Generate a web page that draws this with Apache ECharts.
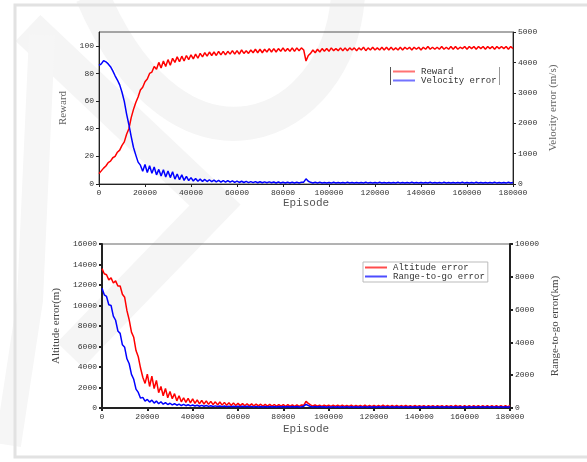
<!DOCTYPE html>
<html>
<head>
<meta charset="utf-8">
<script src="https://cdn.jsdelivr.net/npm/echarts@6/dist/echarts.min.js"></script>
<style>
  html, body { margin: 0; padding: 0; background: #fff; }
  #chart { width: 587px; height: 462px; }
</style>
</head>
<body>
<div id="chart"></div>
<script>
// episode step between samples
const STEP = 1000

// top panel: reward (left axis) and velocity error (right axis, m/s)
const reward = [
  7.5, 9.5, 11.5, 13, 15.5, 16.5, 19, 20, 23, 24.5,
  28, 30.5, 36, 40, 48, 54, 59, 63, 68, 70,
  74, 76, 80, 81, 85, 83, 88, 84, 89, 85,
  90, 86, 91, 88, 92, 88.5, 92.5, 89, 93, 90,
  93.5, 90.5, 94, 91, 94.5, 92, 95, 92.5, 95.5, 93,
  95.5, 93, 96, 93.5, 96, 93.5, 96, 94, 96.5, 94,
  96.5, 94, 97, 94.5, 96.5, 94.5, 97, 95, 97.5, 95,
  97.5, 95, 97.5, 95.5, 98, 95.5, 98, 95.5, 98, 96,
  98.5, 96, 98, 96, 98.5, 96, 98.5, 96.5, 98.5, 97,
  89, 93, 94.5, 97, 95, 97.5, 95.5, 98, 96, 98,
  96, 98.5, 96.5, 98, 96.5, 98.5, 96.5, 98.5, 96.5, 98.5,
  97, 98.5, 96.5, 98.5, 97, 99, 96.5, 98.5, 97, 99,
  97, 98.5, 97, 99, 97, 99, 97, 99, 97, 98.5,
  97, 99, 97, 99, 97.5, 99, 97, 99, 97.5, 99,
  97, 99, 97.5, 99.5, 97.5, 99, 97.5, 99, 97.5, 99.5,
  97.5, 99, 97.5, 99.5, 97.5, 99.5, 97.5, 99, 98, 99.5,
  97.5, 99.5, 98, 99.5, 97.5, 99.5, 98, 99.5, 97.5, 99.5,
  98, 99.5, 97.5, 99.5, 98, 99.5, 98, 99.5, 97.5, 99.5, 98
]
const velocityError = [
  3900, 3950, 4060, 4020, 3950, 3860, 3720, 3560, 3420, 3260,
  3020, 2720, 2300, 1950, 1560, 1200, 950, 720, 620, 420,
  640, 380, 600, 350, 560, 300, 480, 260, 470, 230,
  430, 210, 400, 160, 330, 140, 300, 120, 250, 110,
  210, 100, 180, 90, 160, 85, 150, 80, 140, 75,
  130, 70, 120, 65, 115, 60, 110, 60, 100, 55,
  95, 50, 90, 50, 85, 45, 80, 45, 80, 40,
  75, 40, 70, 40, 70, 40, 65, 35, 65, 35,
  60, 35, 60, 35, 60, 35, 55, 35, 55, 60,
  170, 90, 55, 35, 55, 35, 55, 35, 50, 30,
  50, 30, 55, 35, 50, 30, 50, 30, 55, 35,
  50, 30, 50, 30, 50, 35, 55, 30, 50, 30,
  50, 30, 55, 35, 50, 30, 50, 30, 50, 35,
  55, 30, 50, 30, 50, 30, 55, 35, 50, 30,
  50, 30, 50, 35, 55, 30, 50, 30, 50, 30,
  55, 35, 50, 30, 50, 30, 50, 35, 55, 30,
  50, 30, 50, 30, 55, 35, 50, 30, 50, 30,
  50, 35, 55, 30, 50, 30, 50, 30, 55, 35, 50
]

// bottom panel: altitude error (left axis, m) and range-to-go error (right axis, km)
const altitudeError = [
  13600, 13100, 13000, 12500, 12700, 12200, 12400, 11900, 11900, 11100,
  10800, 9500, 8600, 7400, 6900, 5600, 5000, 3900, 3000, 2400,
  3300, 2100, 3100, 1900, 2700, 1500, 2100, 1200, 1900, 1000,
  1600, 900, 1400, 700, 1200, 600, 1000, 550, 950, 500,
  900, 450, 800, 400, 750, 380, 700, 350, 650, 330,
  600, 300, 580, 280, 550, 260, 520, 250, 480, 240,
  450, 230, 430, 220, 420, 210, 400, 200, 380, 200,
  370, 190, 360, 190, 350, 180, 340, 180, 330, 180,
  330, 170, 320, 170, 310, 160, 310, 160, 300, 260,
  650, 450, 300, 190, 290, 170, 280, 160, 280, 170,
  280, 160, 270, 150, 280, 160, 270, 150, 260, 150,
  270, 140, 260, 150, 250, 140, 270, 140, 250, 130,
  260, 140, 250, 130, 290, 140, 250, 130, 240, 130,
  250, 120, 240, 130, 250, 120, 230, 120, 240, 130,
  230, 120, 240, 110, 230, 120, 240, 110, 230, 120,
  240, 110, 220, 120, 230, 110, 250, 120, 230, 110,
  220, 110, 230, 110, 220, 100, 230, 110, 220, 100,
  230, 110, 220, 100, 230, 100, 220, 110, 230, 100, 260
]
const rangeError = [
  7300, 6900, 6800, 6300, 6250, 5600, 5350, 4700, 4550, 3850,
  3700, 3000, 2700, 2050, 1750, 1150, 950, 600, 650, 420,
  520, 360, 480, 300, 420, 260, 380, 230, 330, 210,
  290, 190, 260, 170, 240, 150, 220, 140, 200, 130,
  180, 120, 170, 110, 160, 105, 150, 100, 140, 95,
  130, 90, 125, 85, 120, 80, 115, 80, 110, 75,
  110, 75, 105, 70, 105, 70, 100, 65, 100, 65,
  95, 65, 95, 60, 95, 60, 90, 60, 90, 60,
  90, 55, 85, 55, 85, 55, 85, 55, 80, 110,
  220, 150, 90, 60, 85, 55, 85, 55, 80, 50,
  80, 50, 85, 50, 80, 50, 80, 50, 85, 50,
  80, 45, 80, 50, 75, 45, 85, 50, 75, 45,
  80, 45, 75, 45, 85, 45, 75, 45, 75, 45,
  80, 45, 75, 45, 75, 40, 80, 45, 75, 40,
  75, 45, 80, 40, 75, 45, 75, 40, 80, 45,
  75, 40, 75, 45, 80, 40, 75, 40, 75, 45,
  80, 40, 75, 40, 75, 45, 80, 40, 75, 40,
  75, 45, 80, 40, 75, 40, 75, 45, 80, 40, 90
]

const xTicks = [0, 20000, 40000, 60000, 80000, 100000, 120000, 140000, 160000, 180000]

function pairs(values) {
  return values.map((v, i) => [i * STEP, v])
}

const MONO = '"Liberation Mono", "DejaVu Sans Mono", monospace'
const SERIF = '"Liberation Serif", "DejaVu Serif", serif'
const plain = (v) => String(v)

const chart = echarts.init(document.getElementById('chart'), null, { renderer: 'canvas' })

function xAxisFor(gridIndex, lineWidth, gap) {
  return {
    type: 'value',
    gridIndex,
    min: xTicks[0],
    max: xTicks[xTicks.length - 1],
    interval: xTicks[1] - xTicks[0],
    name: 'Episode',
    nameLocation: 'middle',
    nameGap: gap,
    nameTextStyle: { fontFamily: MONO, fontSize: 11, color: '#555' },
    axisLine: { onZero: false, lineStyle: { color: '#222', width: lineWidth } },
    axisTick: { length: 3, lineStyle: { color: '#222', width: lineWidth } },
    axisLabel: { margin: 5, fontFamily: MONO, fontSize: 8, color: '#333', formatter: plain },
    splitLine: { show: false }
  }
}

function yAxisFor(gridIndex, position, max, interval, name, gap, lineWidth, nameColor, showMax) {
  return {
    type: 'value',
    gridIndex,
    position,
    min: 0,
    max,
    interval,
    name,
    nameLocation: 'middle',
    nameGap: gap,
    nameTextStyle: { fontFamily: SERIF, fontSize: 11, color: nameColor },
    axisLine: { show: true, onZero: false, lineStyle: { color: '#222', width: lineWidth } },
    axisTick: { show: true, length: 3, lineStyle: { color: '#222', width: lineWidth } },
    axisLabel: { margin: 5, fontFamily: MONO, fontSize: 8, color: '#333', formatter: plain, showMaxLabel: showMax },
    splitLine: { show: false }
  }
}

function lineSeries(name, values, color, xIdx, yIdx) {
  return {
    name,
    type: 'line',
    xAxisIndex: xIdx,
    yAxisIndex: yIdx,
    data: pairs(values),
    showSymbol: false,
    symbol: 'none',
    lineStyle: { color, width: 1.5 },
    itemStyle: { color },
    animation: false
  }
}

chart.setOption({
  animation: false,
  backgroundColor: '#fff',
  graphic: [
    // faint watermark strokes behind the plots
    {
      type: 'bezierCurve', z: -10, silent: true,
      shape: { x1: 92, y1: -5, cpx1: 180, cpy1: 200, cpx2: 340, cpy2: 130, x2: 348, y2: -5 },
      style: { stroke: '#f5f5f5', lineWidth: 34, fill: null }
    },
    {
      type: 'polyline', z: -10, silent: true,
      shape: { points: [[28, 28], [215, 205], [70, 355]] },
      style: { stroke: '#f5f5f5', lineWidth: 36, fill: null }
    },
    {
      type: 'polyline', z: -10, silent: true,
      shape: { points: [[42, 35], [30, 300], [8, 445]] },
      style: { stroke: '#f6f6f6', lineWidth: 26, fill: null }
    },
    // outer frame
    {
      type: 'rect', z: -9, silent: true,
      shape: { x: 15, y: 5, width: 600, height: 452 },
      style: { stroke: '#e2e2e2', lineWidth: 3, fill: null }
    },
    // side rules of the upper legend
    {
      type: 'line', z: 5, silent: true,
      shape: { x1: 390.5, y1: 67, x2: 390.5, y2: 85 },
      style: { stroke: '#555', lineWidth: 1 }
    },
    {
      type: 'line', z: 5, silent: true,
      shape: { x1: 499.5, y1: 67, x2: 499.5, y2: 85 },
      style: { stroke: '#999', lineWidth: 1 }
    }
  ],
  legend: [
    {
      data: ['Reward', 'Velocity error'],
      orient: 'vertical',
      left: 391,
      top: 67,
      padding: [0, 2],
      itemGap: 0,
      itemWidth: 22,
      itemHeight: 2,
      icon: 'rect',
      itemStyle: { opacity: 0.55 },
      textStyle: { fontFamily: MONO, fontSize: 9, color: '#333', lineHeight: 9, padding: [0, 0, 0, 1] }
    },
    {
      data: ['Altitude error', 'Range-to-go error'],
      orient: 'vertical',
      left: 363,
      top: 262,
      padding: [1, 3, 1, 2],
      itemGap: 0,
      itemWidth: 22,
      itemHeight: 2,
      icon: 'rect',
      borderColor: '#bbb',
      borderWidth: 1,
      itemStyle: { opacity: 0.7 },
      textStyle: { fontFamily: MONO, fontSize: 9, color: '#333', lineHeight: 8, padding: [0, 0, 0, 1] }
    }
  ],
  grid: [
    { left: 99, top: 32, width: 414, height: 152, show: true, borderColor: '#555', borderWidth: 1, backgroundColor: 'transparent' },
    { left: 102, top: 244, width: 408, height: 164, show: true, borderColor: '#666', borderWidth: 1, backgroundColor: 'transparent' }
  ],
  xAxis: [
    xAxisFor(0, 1, 14),
    xAxisFor(1, 2, 16)
  ],
  yAxis: [
    yAxisFor(0, 'left', 110, 20, 'Reward', 28, 1, '#666', false),
    yAxisFor(0, 'right', 5000, 1000, 'Velocity error (m/s)', 35, 1, '#666', true),
    yAxisFor(1, 'left', 16000, 2000, 'Altitude error(m)', 40, 2, '#444', true),
    yAxisFor(1, 'right', 10000, 2000, 'Range-to-go error(km)', 39, 2, '#444', true)
  ],
  series: [
    lineSeries('Reward', reward, '#ff0000', 0, 0),
    lineSeries('Velocity error', velocityError, '#0000ff', 0, 1),
    lineSeries('Altitude error', altitudeError, '#ff0000', 1, 2),
    lineSeries('Range-to-go error', rangeError, '#0000ff', 1, 3)
  ]
})
</script>
</body>
</html>
